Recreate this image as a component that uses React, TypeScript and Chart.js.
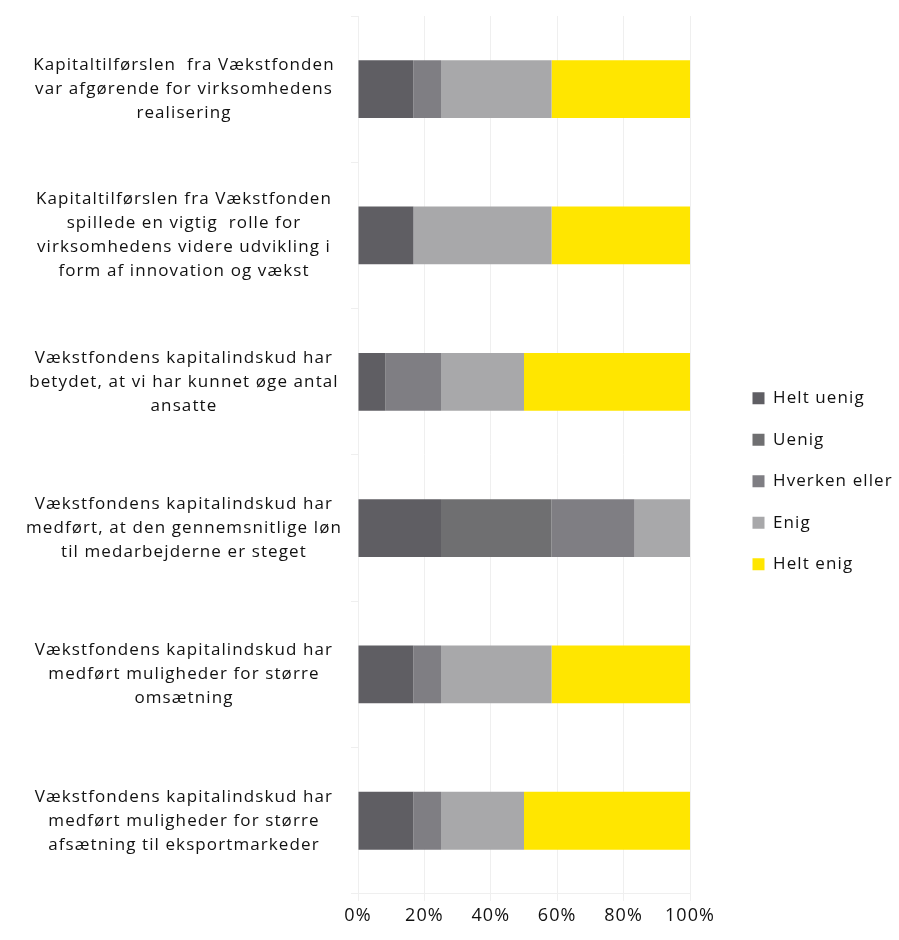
import React, { useEffect, useRef } from 'react';
import { Chart, registerables, layouts } from 'chart.js';

Chart.register(...registerables);

const categories: string[][] = [
  ['Kapitaltilførslen  fra Vækstfonden', 'var afgørende for virksomhedens', 'realisering'],
  ['Kapitaltilførslen fra Vækstfonden', 'spillede en vigtig  rolle for', 'virksomhedens videre udvikling i', 'form af innovation og vækst'],
  ['Vækstfondens kapitalindskud har', 'betydet, at vi har kunnet øge antal', 'ansatte'],
  ['Vækstfondens kapitalindskud har', 'medført, at den gennemsnitlige løn', 'til medarbejderne er steget'],
  ['Vækstfondens kapitalindskud har', 'medført muligheder for større', 'omsætning'],
  ['Vækstfondens kapitalindskud har', 'medført muligheder for større', 'afsætning til eksportmarkeder'],
];

const seriesNames = ['Helt uenig', 'Uenig', 'Hverken eller', 'Enig', 'Helt enig'];
const heltUenig = [16.7, 16.7, 8.3, 25, 16.7, 16.7];
const uenig = [0, 0, 0, 33.3, 0, 0];
const hverkenEller = [8.3, 0, 16.7, 25, 8.3, 8.3];
const enig = [33.3, 41.6, 25, 16.7, 33.3, 25];
const heltEnig = [41.7, 41.7, 50, 0, 41.7, 50];
const seriesColors = ['#5f5e63', '#6f6f71', '#7f7e83', '#a8a8aa', '#ffe600'];
const xTicks = [0, 20, 40, 60, 80, 100];

const FONT = '"Open Sans", "Noto Sans", sans-serif';
const GRID = '#efefef';
const LEGEND_SPACER = 38;
const LETTER_SPACING = '1.1px';

const spacerPlugin = {
  id: 'legendSpacer',
  beforeInit(chart: any) {
    const box: any = {
      position: 'right',
      weight: 500,
      fullSize: false,
      options: {},
      left: 0, top: 0, right: 0, bottom: 0, width: 0, height: 0,
      update(maxW: number, maxH: number) { this.width = LEGEND_SPACER; this.height = maxH; },
      isHorizontal() { return false; },
      draw() {},
    };
    layouts.addBox(chart, box);
  },
};

const spacingPlugin = {
  id: 'letterSpacing',
  beforeUpdate(chart: any) { (chart.ctx as any).letterSpacing = LETTER_SPACING; },
  beforeLayout(chart: any) { (chart.ctx as any).letterSpacing = LETTER_SPACING; },
  beforeDraw(chart: any) { (chart.ctx as any).letterSpacing = LETTER_SPACING; },
};

export default function App() {
  const ref = useRef<HTMLCanvasElement>(null);

  useEffect(() => {
    if (!ref.current) return;
    const allSeries = [heltUenig, uenig, hverkenEller, enig, heltEnig];
    const chart = new Chart(ref.current, {
      type: 'bar',
      data: {
        labels: categories,
        datasets: allSeries.map((d, i) => ({
          label: seriesNames[i],
          data: d,
          backgroundColor: seriesColors[i],
          borderWidth: 0,
          barPercentage: 0.79,
          categoryPercentage: 0.5,
        })),
      },
      plugins: [spacingPlugin, spacerPlugin],
      options: {
        indexAxis: 'y',
        responsive: false,
        animation: false,
        layout: { padding: { top: 16, bottom: 9.5, left: 0, right: 0 } },
        scales: {
          x: {
            stacked: true,
            min: 0,
            max: 100,
            afterBuildTicks: (scale: any) => { scale.ticks = xTicks.map((v) => ({ value: v })); },
            ticks: {
              callback: (v: any) => v + '%',
              color: '#111',
              font: { family: FONT, size: 18 },
              padding: 4,
              maxRotation: 0,
            },
            grid: { color: GRID, tickLength: 7, lineWidth: 1 },
            border: { color: GRID },
          },
          y: {
            stacked: true,
            afterFit: (scale: any) => {
              scale.width = 358;
              scale.paddingTop = 0;
              scale.paddingBottom = 0;
            },
            ticks: {
              color: '#111',
              font: { family: FONT, size: 17, lineHeight: 24 / 17 },
              crossAlign: 'center',
              padding: 9,
              autoSkip: false,
            },
            grid: { color: GRID, drawOnChartArea: false, tickLength: 7 },
            border: { color: GRID },
          },
        },
        plugins: {
          legend: {
            position: 'right',
            align: 'center',
            maxWidth: 171,
            title: { display: true, text: '', font: { size: 1, lineHeight: 1 }, padding: { top: 0, bottom: 15 } },
            labels: {
              boxWidth: 12,
              boxHeight: 12,
              padding: 24.5,
              color: '#111',
              font: { family: FONT, size: 17 },
            },
          },
          tooltip: { enabled: false },
        },
      } as any,
    });
    return () => chart.destroy();
  }, []);

  return (
    <div style={{ position: 'absolute', left: 0, top: 0, width: 899, height: 940, background: '#fff' }}>
      <canvas ref={ref} width={899} height={940} style={{ display: 'block', width: 899, height: 940 }} />
    </div>
  );
}
